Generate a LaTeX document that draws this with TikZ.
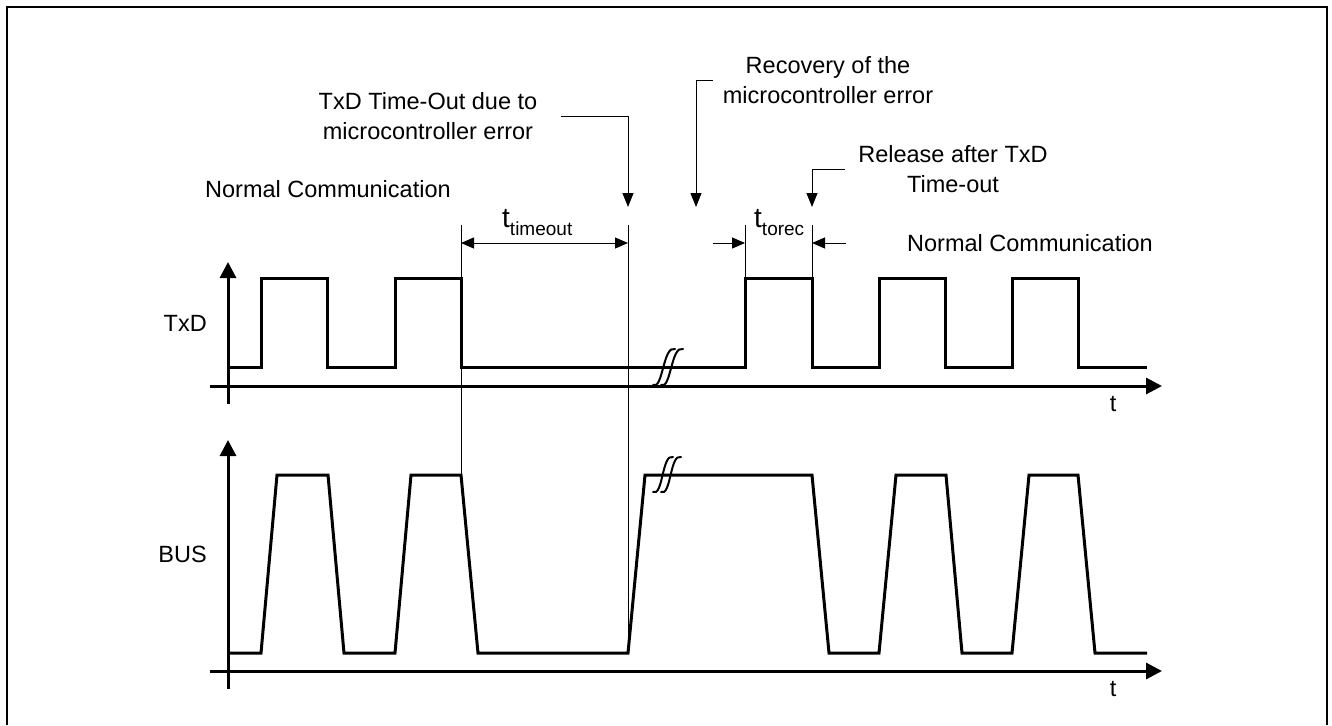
\documentclass[tikz,border=0pt]{standalone}
\usepackage{fontspec}
\setmainfont{Liberation Sans}
\usetikzlibrary{arrows.meta}
\usetikzlibrary{positioning}
\tikzset{
	frame/.style={line width=2pt},
	axis/.style={line width=3pt, -{Triangle[length=16pt,width=16pt]}},
	sig/.style={line width=3pt, line join=miter},
	guide/.style={line width=1pt},
	dim/.style={line width=1pt, -{Triangle[length=13pt,width=11pt]}},
	lead/.style={line width=1pt, -{Triangle[length=14pt,width=11pt]}},
	brk/.style={line width=2pt, line cap=round},
	lab/.style={font=\fontsize{23.5}{30}\selectfont, inner sep=0pt, align=center}
}
\begin{document}
\begin{tikzpicture}[x=1pt, y=-1pt]
		\useasboundingbox (0,0) rectangle (1332,725);
		\draw[frame] (7,725) -- (7,7) -- (1327,7) -- (1327,725);
		% labels
		\node[lab, anchor=base west] (nc1) at (205,197) {Normal Communication};
		\node[lab, anchor=base west] (nc2) at (907,251) {Normal Communication};
		\node[lab, inner xsep=24pt] (txo) at (428,116.4) {TxD Time-Out due to\\ microcontroller error};
		\node[lab, inner xsep=10pt] (rec) at (828,80.4) {Recovery of the\\ microcontroller error};
		\node[lab, inner xsep=13pt] (rel) at (953,169.4) {Release after TxD\\ Time-out};
		\node[lab, anchor=base east] (txd) at (207,331) {TxD};
		\node[lab, anchor=base east] (bus) at (207,562) {BUS};
		\node[lab, anchor=base] (t1) at (1113,411) {t};
		\node[lab, anchor=base] (t2) at (1113,696) {t};
		\node[lab, anchor=base west] (tto) at (502,227) {{\fontsize{28}{30}\selectfont t}{\fontsize{19}{20}\selectfont\raisebox{-8pt}{timeout}}};
		\node[lab, anchor=base west] (ttr) at (754,227) {{\fontsize{28}{30}\selectfont t}{\fontsize{19}{20}\selectfont\raisebox{-8pt}{torec}}};
		% arrow tips
		\coordinate (tip1) at (628,207);
		\coordinate (tip2) at (696,207);
		\coordinate (tip3) at (812,207);
		\draw[lead] (txo.east) -| (tip1);
		\draw[lead] (rec.west) -| (tip2);
		\draw[lead] (rel.west) -| (tip3);
		% guides and dimensions
		\draw[guide] (461,225) -- (461,475);
		\draw[guide] (628,225) -- (628,653);
		\draw[guide] (745,225) -- (745,278);
		\draw[guide] (812,225) -- (812,278);
		\draw[dim, {Triangle[length=13pt,width=11pt]}-{Triangle[length=13pt,width=11pt]}] (461,243) -- (628,243);
		\draw[dim] (713,243) -- (745,243);
		\draw[dim] (846,243) -- (812,243);
		% axes
		\draw[axis] (228,404) -- (228,262);
		\draw[axis] (210,386) -- (1162,386);
		\draw[axis] (228,689) -- (228,440);
		\draw[axis] (210,671) -- (1162,671);
		% TxD
		\draw[sig] (228,367) -- (261,367) -- (261,278) -- (327,278) -- (327,367)
			-- (395,367) -- (395,278) -- (461,278) -- (461,367) -- (745,367)
			-- (745,278) -- (812,278) -- (812,367) -- (879,367) -- (879,278)
			-- (945,278) -- (945,367) -- (1012,367) -- (1012,278) -- (1078,278)
			-- (1078,367) -- (1147,367);
		% BUS
		\draw[sig] (228,653) -- (261,653) -- (277,475) -- (328,475) -- (344,653)
			-- (395,653) -- (411,475) -- (461,475) -- (478,653) -- (628,653)
			-- (645,475) -- (812,475) -- (829,653) -- (879,653) -- (896,475)
			-- (946,475) -- (962,653) -- (1012,653) -- (1029,475) -- (1078,475)
			-- (1095,653) -- (1147,653);
		% breaks
		\foreach \dx in {0,8} {
			\draw[brk] (653+\dx,385) .. controls (663+\dx,390) and (663+\dx,345) .. (675+\dx,349);
			\draw[brk] (653+\dx,492) .. controls (663+\dx,497) and (662+\dx,453) .. (673+\dx,457);
		}
	\end{tikzpicture}
\end{document}
